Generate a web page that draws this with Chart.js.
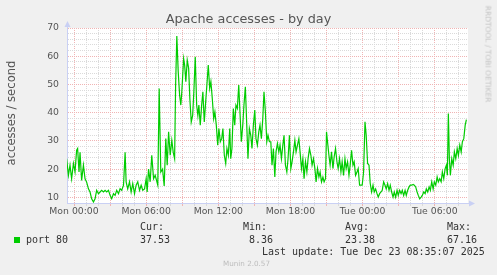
<!DOCTYPE html>
<html>
<head>
<meta charset="utf-8">
<script src="https://cdn.jsdelivr.net/npm/chart.js@4.4.0/dist/chart.umd.min.js"></script>
<style>
  html, body { margin: 0; padding: 0; background: #f0f0f0; }
  #wrap { position: relative; width: 497px; height: 275px; overflow: hidden; }
  canvas { position: absolute; left: 0; top: 0; }
  .t { position: absolute; white-space: pre; font-family: "DejaVu Sans", sans-serif; }
  .m { position: absolute; white-space: pre; font-family: "DejaVu Sans Mono", monospace; font-size: 10px; line-height: 12px; color: #333; }
</style>
</head>
<body>
<div id="wrap">
  <canvas id="myChart" width="497" height="275"></canvas>
  <div class="t" id="title" style="left:0;width:497px;text-align:center;top:11px;font-size:12.8px;line-height:15px;color:#555;">Apache accesses - by day</div>
  <div class="t" style="left:11px;top:113px;font-size:11.6px;line-height:14px;color:#555;transform:translate(-50%,-50%) rotate(-90deg);">accesses / second</div>
  <div class="t" style="left:488px;top:54px;font-size:7.5px;line-height:9px;color:#c4c4c4;transform:translate(-50%,-50%) rotate(90deg);">RRDTOOL / TOBI OETIKER</div>

  <div style="position:absolute;left:14px;top:237px;width:6px;height:6px;background:#00cc00;"></div>
  <div class="m" style="left:26px;top:234px;">port 80</div>
  <div class="m" style="left:140px;top:221px;">Cur:</div>
  <div class="m" style="left:140px;top:234px;">37.53</div>
  <div class="m" style="left:243px;top:221px;">Min:</div>
  <div class="m" style="left:243px;top:234px;"> 8.36</div>
  <div class="m" style="left:345px;top:221px;">Avg:</div>
  <div class="m" style="left:345px;top:234px;">23.38</div>
  <div class="m" style="left:447px;top:221px;">Max:</div>
  <div class="m" style="left:447px;top:234px;">67.16</div>
  <div class="m" style="left:262px;top:246px;">Last update: Tue Dec 23 08:35:07 2025</div>
  <div class="t" style="left:223px;top:259px;font-size:7.2px;line-height:9px;color:#bdbdbd;">Munin 2.0.57</div>
</div>

<script>
// minutes since Mon 00:00 (5 min rrd steps)
var sampleMinutes = [
  -37, -28, -20, -12, -3, 5, 13, 18, 25, 30, 38, 47, 55, 63, 72, 80, 88, 97, 105, 113,
  122, 130, 138, 147, 155, 163, 172, 180, 188, 197, 205, 213, 222, 230, 238, 247, 255, 260, 268, 277,
  285, 293, 302, 310, 318, 327, 335, 343, 352, 360, 365, 372, 380, 388, 397, 405, 418, 425, 433, 442,
  450, 458, 465, 472, 480, 488, 495, 502,
  507, 513, 520, 527, 533, 538, 547, 552, 558, 565, 572, 578, 585, 592, 598, 605, 612, 618, 623, 630,
  637, 643, 650, 657, 663, 670, 677, 683, 690, 697, 703, 710, 717, 723, 730, 737, 743, 750, 757, 763,
  770, 777, 782, 788, 795, 802, 808, 815, 822, 828, 835, 842, 848, 855, 862, 868, 875, 882, 888, 895,
  902, 908, 915, 922, 928, 935, 942, 948, 955, 962, 968, 975,
  982, 988, 995, 1002, 1008, 1015, 1022, 1028, 1035, 1042, 1048, 1055, 1062, 1068, 1075, 1082, 1088, 1095, 1102, 1108,
  1115, 1122, 1128, 1135, 1142, 1148, 1155, 1162, 1168, 1175, 1182, 1188, 1195, 1202, 1208, 1215, 1222, 1228, 1235, 1242,
  1248, 1255, 1260, 1265, 1272, 1278, 1285, 1292, 1298, 1305, 1312, 1318, 1325, 1332, 1338, 1345, 1352, 1358, 1365, 1372,
  1378, 1385, 1392, 1398, 1405, 1412, 1418, 1425, 1432, 1438, 1445,
  1452, 1458, 1465, 1472, 1478, 1485, 1492, 1498, 1505, 1512, 1518, 1525, 1532, 1538, 1545, 1552, 1558, 1565, 1572, 1578,
  1585, 1592, 1598, 1605, 1612, 1618, 1625, 1632, 1638, 1645, 1652, 1658, 1665, 1672, 1678, 1685, 1692, 1698, 1705, 1712,
  1718, 1725, 1732, 1738, 1745, 1752, 1758, 1765, 1772, 1778, 1785, 1792, 1798, 1805, 1812, 1818, 1825, 1832, 1838, 1845,
  1852, 1858, 1863, 1868, 1873, 1878, 1885, 1892, 1898, 1905, 1912, 1918, 1925, 1932, 1938, 1945, 1952, 1958
];

// port 80 accesses / second
var accesses = [
  23.7, 17.8, 21.4, 16.6, 22, 19, 26.7, 27.3, 19, 26, 16, 21.4, 16.6, 15.4, 13, 11.9, 9.5, 8.36, 9.5, 12.5,
  11.3, 11.9, 12.5, 11.9, 12.5, 11.9, 12.5, 10.7, 9.5, 11.3, 10.7, 12.5, 11.3, 13.1, 12.5, 14.3, 26, 15.5, 13, 15.5,
  11.9, 14.9, 11.3, 14.3, 15.5, 12.5, 14.3, 12.5, 13, 16.6, 11.9, 20, 15.5, 24.9, 16.6, 17.8, 14.3, 48.6, 19, 20,
  14, 30.8, 21.4, 33.2, 24.9, 30.2, 26, 23.7,
  49.8, 67.16, 54.5, 46.2, 42.7, 47.4, 59.2, 56.9, 51, 58.6, 55.7, 45, 36.7, 39, 47.4, 59.8, 42.7, 39, 42.7, 35.6,
  42.7, 47.4, 36.7, 43.9, 49.8, 56.9, 48.6, 51, 45, 37.9, 40.3, 35.6, 28.5, 34.4, 29.7, 30.8, 34.4, 24.9, 22, 27.3,
  24.9, 34.4, 23.7, 27.3, 41.5, 35.6, 42.7, 41.5, 49.8, 40.3, 29.7, 35.6, 42.7, 49.2, 35.6, 23.7, 34.4, 32, 27.3, 35.6,
  40.9, 30.8, 28.5, 33.2, 35.6, 30.8, 37.9, 47.4, 40.3, 29.7, 32, 29.7,
  29.7, 21.4, 27.3, 17.2, 26.1, 29.1, 26.1, 28.5, 23.7, 28.5, 32, 21.4, 19, 23.7, 32, 20.2, 22.6, 26.1, 30.2, 26.1,
  28.5, 30.8, 26.1, 20.2, 23.7, 16.6, 22.6, 19, 23.7, 27.3, 24.9, 21.4, 23.7, 20.2, 15.5, 20.2, 17.2, 19, 15.5, 17.2,
  15.5, 16.6, 33.2, 29.7, 24.9, 21.4, 26.1, 20.2, 24.3, 27.3, 22.6, 20.2, 23.7, 19, 22.6, 17.8, 23.7, 20.2, 22.6, 17.8,
  21.4, 26.7, 21.4, 22.6, 17.8, 19, 20.2, 14.3, 14.3, 14.3, 19,
  36.8, 32, 22, 21.4, 15, 11.9, 14.3, 11.9, 13, 11.3, 10.1, 11.3, 11.9, 12.5, 15.5, 14.3, 13, 14.9, 12.5, 14.3,
  11.9, 10.1, 11.9, 10.1, 12.5, 10.7, 12.5, 11.3, 12.5, 10.7, 12.5, 10.7, 12.5, 13.7, 14.3, 14.3, 14.6, 14.3, 13.7, 11.9,
  10.7, 9.5, 10.1, 10.7, 11.9, 11.3, 13, 11.9, 13.7, 12.5, 15.5, 13, 15.5, 14.3, 17.2, 15.5, 16.6, 15.5, 19, 16.6,
  20.2, 21.4, 17.8, 39.7, 23.7, 17.8, 23.7, 21.4, 26.1, 23.7, 27.3, 24.9, 28.5, 26.1, 29.7, 30.8, 35.6, 37.53
];

var xTickLabels = ['Mon 00:00', 'Mon 06:00', 'Mon 12:00', 'Mon 18:00', 'Tue 00:00', 'Tue 06:00'];
var yTickLabels = [10, 20, 30, 40, 50, 60, 70];

var lineColor = '#00cc00';
var axisColor = '#c9d0f4';
var majorGrid = '#f0b4b4';
var minorGrid = '#dadada';

var points = [];
for (var i = 0; i < sampleMinutes.length; i++) {
  points.push({ x: sampleMinutes[i], y: accesses[i] });
}

// white plot background + the rrdtool arrow heads
var frame = {
  id: 'frame',
  beforeDraw: function (chart) {
    var a = chart.chartArea;
    var c = chart.ctx;
    c.save();
    c.fillStyle = '#ffffff';
    c.fillRect(a.left, a.top, a.right - a.left, a.bottom - a.top);
    c.restore();
  },
  afterDraw: function (chart) {
    var a = chart.chartArea;
    var c = chart.ctx;
    c.save();
    c.fillStyle = axisColor;
    c.strokeStyle = axisColor;
    c.lineWidth = 1;
    // y axis arrow
    c.beginPath();
    c.moveTo(a.left + 0.5, a.top);
    c.lineTo(a.left + 0.5, a.top - 3);
    c.stroke();
    c.beginPath();
    c.moveTo(a.left - 2.5, a.top - 1);
    c.lineTo(a.left + 3.5, a.top - 1);
    c.lineTo(a.left + 0.5, a.top - 7);
    c.closePath();
    c.fill();
    // x axis arrow
    c.beginPath();
    c.moveTo(a.right + 1, a.bottom - 2.5);
    c.lineTo(a.right + 1, a.bottom + 3.5);
    c.lineTo(a.right + 7, a.bottom + 0.5);
    c.closePath();
    c.fill();
    c.restore();
  }
};

var ctx = document.getElementById('myChart').getContext('2d');
var chart = new Chart(ctx, {
  type: 'line',
  data: {
    datasets: [{
      label: 'port 80',
      data: points,
      borderColor: lineColor,
      borderWidth: 1.2,
      pointRadius: 0,
      tension: 0,
      fill: false
    }]
  },
  options: {
    responsive: false,
    animation: false,
    devicePixelRatio: 1,
    layout: { padding: { top: 28, right: 29, bottom: 54, left: 0 } },
    plugins: {
      legend: { display: false },
      title: { display: false },
      tooltip: { enabled: false }
    },
    scales: {
      x: {
        type: 'linear',
        min: -35,
        max: 1966,
        afterBuildTicks: function (scale) {
          var t = [];
          for (var m = 0; m <= 1920; m += 60) t.push({ value: m });
          scale.ticks = t;
        },
        afterFit: function (scale) { scale.height = 18; },
        grid: {
          color: function (c) { return c.tick && c.tick.value % 180 === 0 ? majorGrid : minorGrid; },
          tickColor: function (c) { return c.tick && c.tick.value % 180 === 0 ? majorGrid : minorGrid; },
          lineWidth: 1,
          drawTicks: true,
          tickLength: 3
        },
        border: { color: axisColor, dash: [1, 1] },
        ticks: {
          autoSkip: false,
          maxRotation: 0,
          padding: 0,
          color: '#555',
          font: { family: 'DejaVu Sans', size: 9.3 },
          callback: function (value) {
            return value % 360 === 0 ? xTickLabels[value / 360] : '';
          }
        }
      },
      y: {
        min: 8,
        max: 70,
        afterBuildTicks: function (scale) {
          var t = [];
          for (var v = 8; v <= 70; v += 2) t.push({ value: v });
          scale.ticks = t;
        },
        afterFit: function (scale) { scale.width = 67; },
        grid: {
          color: function (c) { return c.tick && c.tick.value % 10 === 0 ? majorGrid : minorGrid; },
          lineWidth: 1,
          drawTicks: false
        },
        border: { color: axisColor, dash: [1, 1] },
        ticks: {
          autoSkip: false,
          padding: 8,
          color: '#555',
          font: { family: 'DejaVu Sans', size: 9.3 },
          callback: function (value) {
            return yTickLabels.indexOf(value) >= 0 ? String(value) : '';
          }
        }
      }
    }
  },
  plugins: [frame]
});
</script>
</body>
</html>
